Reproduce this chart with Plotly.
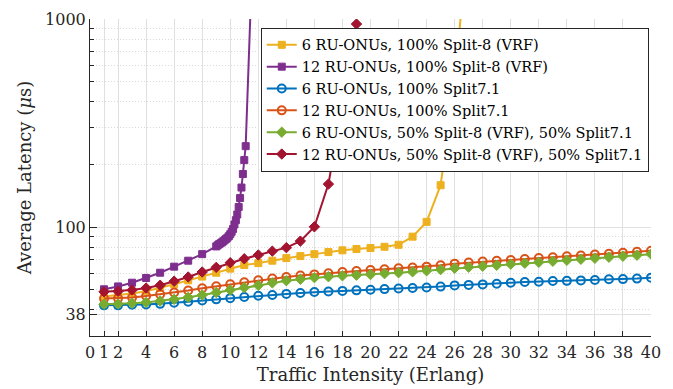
import plotly.graph_objects as go

# ---- data: average latency (us) vs traffic intensity (Erlang) ----
x_full = list(range(1, 41))

lat_6ru_split8 = [46.4, 47.1, 48.0, 49.2, 51.0, 53.2, 55.5, 57.9, 60.4, 63.2,
                  65.8, 67.2, 69.0, 71.0, 72.6, 74.2, 75.9, 77.4, 78.5, 79.4,
                  80.5, 82.3, 90.0, 106.0, 159.0, 505.0, 2600.0]
x_6ru_split8 = list(range(1, 28))

x_12ru_split8 = [1, 2, 3, 4, 5, 6, 7, 8, 9,
                 9.1, 9.2, 9.3, 9.4, 9.5, 9.6, 9.7, 9.8, 9.9, 10.0,
                 10.1, 10.2, 10.3, 10.4, 10.5, 10.6, 10.7, 10.8, 10.9, 11.0,
                 11.1, 11.5]
lat_12ru_split8 = [50.3, 51.9, 54.1, 57.0, 60.4, 64.6, 69.0, 74.2, 80.8,
                   81.8, 82.8, 83.6, 84.5, 85.5, 86.6, 87.8, 89.0, 90.5, 92.5,
                   95.0, 98.0, 103.0, 108.0, 115.0, 125.0, 138.0, 155.0, 180.0, 210.0,
                   245.0, 1400.0]

lat_6ru_split71 = [42.1, 42.1, 42.4, 42.5, 42.8, 43.3, 43.8, 44.4, 45.0, 45.6,
                   46.2, 46.8, 47.2, 47.8, 48.3, 48.8, 49.1, 49.4, 49.7, 50.0,
                   50.4, 50.7, 51.0, 51.3, 51.8, 52.5, 52.8, 53.1, 53.5, 54.1,
                   54.5, 54.7, 55.1, 55.2, 55.5, 55.7, 56.2, 56.3, 56.6, 57.2]

lat_12ru_split71 = [45.4, 45.5, 45.9, 46.7, 47.6, 48.5, 49.6, 50.9, 52.0, 53.2,
                    54.4, 55.6, 56.6, 57.6, 58.5, 59.3, 60.1, 60.9, 61.6, 62.2,
                    62.8, 63.4, 64.0, 64.6, 65.6, 66.8, 67.6, 68.3, 68.9, 69.6,
                    70.3, 71.0, 71.7, 72.4, 73.1, 73.8, 74.5, 75.3, 76.1, 77.0]

lat_6ru_mixed = [42.6, 42.7, 43.1, 43.5, 44.2, 45.0, 46.0, 47.2, 48.5, 49.9,
                 51.2, 52.5, 54.0, 55.3, 56.2, 57.2, 57.8, 58.4, 58.8, 59.2,
                 59.8, 60.4, 61.0, 61.7, 62.5, 63.5, 64.2, 64.9, 65.6, 66.4,
                 67.1, 67.8, 68.6, 69.3, 70.1, 70.9, 71.7, 72.5, 73.3, 74.2]

x_12ru_mixed = list(range(1, 18)) + [19]
lat_12ru_mixed = [48.9, 49.2, 49.9, 51.0, 52.6, 55.0, 57.6, 60.9, 64.1, 67.5,
                  70.5, 73.5, 76.7, 79.7, 85.7, 100.4, 161.0, 946.0]

x_ticks = [0, 1, 2] + list(range(4, 41, 2))
y_ticks = [38, 100, 1000]
y_minor = [40, 50, 60, 70, 80, 90, 200, 300, 400, 500, 600, 700, 800, 900]

series = [
    ("6 RU-ONUs, 100% Split-8 (VRF)", x_6ru_split8, lat_6ru_split8, "#EDB120", "square", 7),
    ("12 RU-ONUs, 100% Split-8 (VRF)", x_12ru_split8, lat_12ru_split8, "#7E2F8E", "square", 7),
    ("6 RU-ONUs, 100% Split7.1", x_full, lat_6ru_split71, "#0072BD", "circle-open", 8),
    ("12 RU-ONUs, 100% Split7.1", x_full, lat_12ru_split71, "#D95319", "circle-open", 8),
    ("6 RU-ONUs, 50% Split-8 (VRF), 50% Split7.1", x_full, lat_6ru_mixed, "#77AC30", "diamond", 8),
    ("12 RU-ONUs, 50% Split-8 (VRF), 50% Split7.1", x_12ru_mixed, lat_12ru_mixed, "#A2142F", "diamond", 8),
]

FONT = "DejaVu Serif, serif"
INK = "#262626"

fig = go.Figure()
for name, xs, ys, color, symbol, msize in series:
    fig.add_trace(go.Scatter(
        x=xs, y=ys, name=name, mode="lines+markers",
        line=dict(color=color, width=2),
        marker=dict(symbol=symbol, size=msize, color=color,
                    line=dict(color=color, width=2 if "open" in symbol else 1)),
        cliponaxis=True,
    ))

fig.update_layout(
    width=673, height=389,
    margin=dict(l=90, r=22, t=19, b=53),
    paper_bgcolor="white", plot_bgcolor="white",
    font=dict(family=FONT, color=INK, size=16),
    showlegend=True,
    legend=dict(
        x=0.996, y=0.972, xanchor="right", yanchor="top",
        bgcolor="white", bordercolor=INK, borderwidth=1,
        font=dict(family=FONT, size=14.5, color="black"),
        tracegroupgap=0, itemwidth=30,
    ),
)

fig.update_xaxes(
    range=[0, 40], tickmode="array", tickvals=x_ticks,
    ticks="inside", ticklen=5, tickcolor=INK, tickwidth=1,
    showline=True, linecolor=INK, linewidth=1,
    showgrid=True, gridcolor="#e0e0e0", gridwidth=1,
    zeroline=False, mirror=False, automargin=False,
    tickfont=dict(family=FONT, size=16, color=INK),
    ticklabelstandoff=2,
    title=dict(text="Traffic Intensity (Erlang)", font=dict(family=FONT, size=18, color=INK),
               standoff=7),
)

fig.update_yaxes(
    type="log", range=[1.4771, 3.0], tickmode="array", tickvals=y_ticks,
    ticktext=[str(v) for v in y_ticks],
    ticks="inside", ticklen=7, tickcolor=INK, tickwidth=1,
    showline=True, linecolor=INK, linewidth=1,
    showgrid=True, gridcolor="#e0e0e0", gridwidth=1,
    zeroline=False, mirror=False, automargin=False,
    tickfont=dict(family=FONT, size=16, color=INK),
    minor=dict(tickvals=y_minor, ticks="inside", ticklen=4, tickcolor=INK,
               showgrid=True, gridcolor="#dadada", griddash="1px,2px", gridwidth=1),
    title=dict(text="Average Latency (<i>μ</i>s)", font=dict(family=FONT, size=18, color=INK),
               standoff=8),
)

fig.write_html("out.html")
